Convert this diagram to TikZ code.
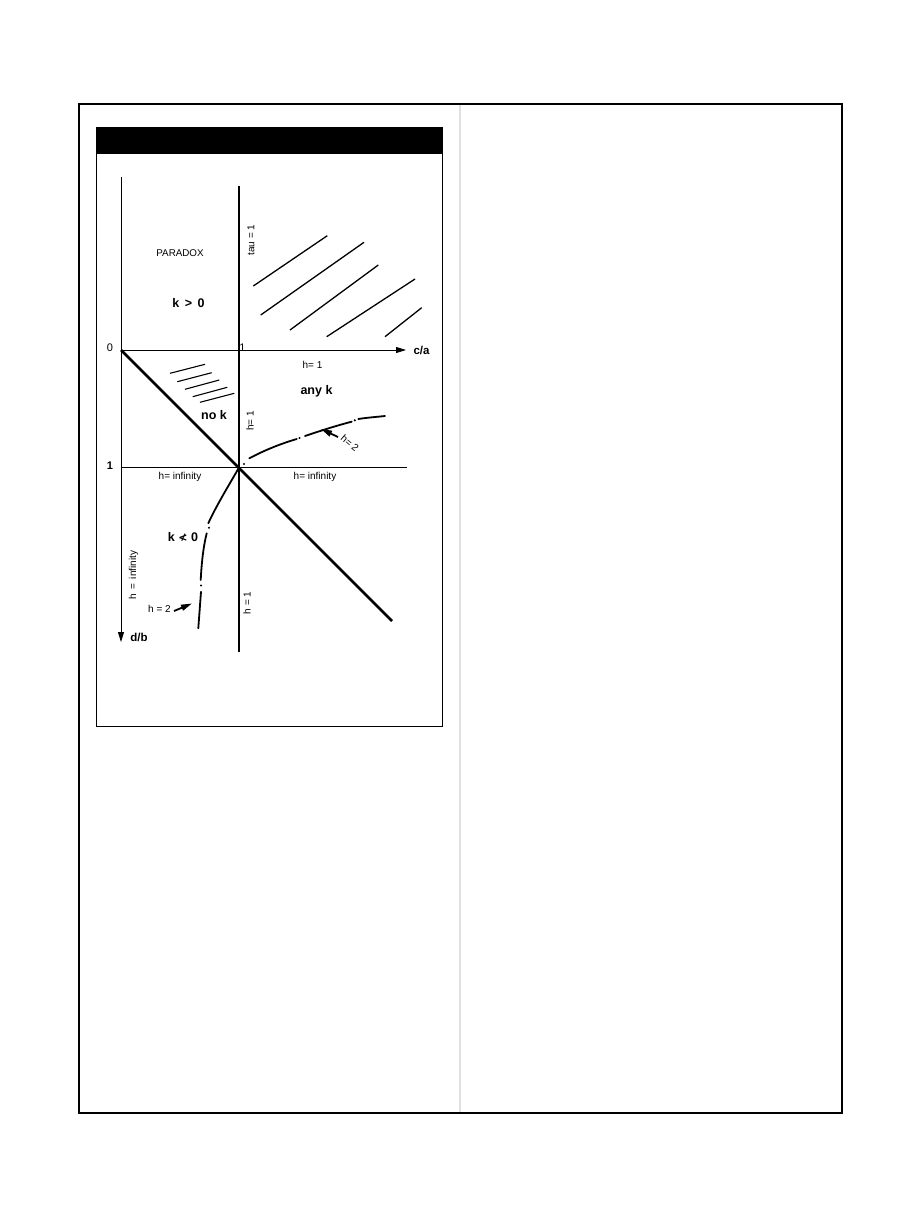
\documentclass[tikz,border=0pt]{standalone}
\usepackage{fontspec}
\setmainfont{Liberation Sans}
\setsansfont{Liberation Sans}
\usetikzlibrary{arrows.meta}
\tikzset{
  frameline/.style={line width=1.3pt, black},
  divider/.style={line width=2pt, black!12},
  boxline/.style={line width=0.9pt, black},
  axisline/.style={line width=0.8pt, black},
  midline/.style={line width=1.6pt, black},
  heavyline/.style={line width=2.8pt, black},
  hatchline/.style={line width=1.3pt, black},
  curveline/.style={line width=1.8pt, black, line cap=round},
  tip/.style={-{Triangle[length=10pt,width=6pt]}},
  pointer/.style={-{Triangle[length=11pt,width=6pt]}, line width=1.8pt},
  lbl/.style={font=\fontsize{10}{12}\selectfont, inner sep=0pt},
  blbl/.style={font=\fontsize{12.5}{14}\selectfont\bfseries, inner sep=0pt},
  dotmark/.style={circle, fill=black, inner sep=0pt, minimum size=2.4pt}
}
\begin{document}
\begin{tikzpicture}[x=1pt,y=-1pt]
\useasboundingbox (0,0) rectangle (918,1215);
% outer frame and divider
\draw[divider] (460,105) -- (460,1112);
\draw[frameline] (79,104) rectangle (842,1113);
% inner box with black header bar
\fill[black] (96,127) rectangle (442,154);
\draw[boxline] (96,127) rectangle (442,726);

% key coordinates
\coordinate (O) at (121,350);
\coordinate (ytop) at (121,177);
\coordinate (yend) at (121,642);
\coordinate (xend) at (406,350);
\coordinate (ttop) at (239,186);
\coordinate (tbot) at (239,652);
\coordinate (C) at (239,467.5);
\coordinate (hl) at (121,467.5);
\coordinate (hr) at (407,467.5);
\coordinate (dend) at (392,621);

% axes and lines
\draw[axisline] (ytop) -- (O);
\draw[axisline, tip] (O) -- (yend);
\draw[axisline, tip] (O) -- (xend);
\draw[midline] (ttop) -- (tbot);
\draw[midline] (hl) -- (hr);
\draw[heavyline] (O) -- (dend);

% hatching upper right
\coordinate (a1) at (253.3,286); \coordinate (b1) at (327.3,235.7);
\coordinate (a2) at (260.7,315); \coordinate (b2) at (364,242.3);
\coordinate (a3) at (290,330);   \coordinate (b3) at (378.3,265);
\coordinate (a4) at (326.7,336.7); \coordinate (b4) at (415,279);
\coordinate (a5) at (385,336.7); \coordinate (b5) at (421.7,307.7);
\foreach \i in {1,...,5} \draw[hatchline] (a\i) -- (b\i);

% hatching "no k"
\coordinate (c1) at (170,373.3); \coordinate (d1) at (205,364.3);
\coordinate (c2) at (177.3,381.7); \coordinate (d2) at (211.7,372.7);
\coordinate (c3) at (185,389.3); \coordinate (d3) at (219.3,380);
\coordinate (c4) at (192.7,396.7); \coordinate (d4) at (227.3,387.3);
\coordinate (c5) at (200,402.3); \coordinate (d5) at (234.3,393.3);
\foreach \i in {1,...,5} \draw[line width=1.1pt] (c\i) -- (d\i);

% h = 2 curve, upper right branch
\node[dotmark] (u0) at (244,464) {};
\coordinate (u1) at (249.3,458.3);
\coordinate (u2) at (296.7,439);
\node[dotmark] (u3) at (299.5,438) {};
\coordinate (u4) at (305,436);
\coordinate (u5) at (351.7,421.7);
\node[dotmark] (u6) at (354.8,420.3) {};
\coordinate (u7) at (358.3,419);
\coordinate (u8) at (385,416);
\draw[curveline] (u1) .. controls (265,450) and (280,444) .. (u2);
\draw[curveline] (u4) .. controls (320,431) and (335,426) .. (u5);
\draw[curveline] (u7) .. controls (368,417.5) and (376,417) .. (u8);

% h = 2 curve, lower left branch
\coordinate (l1) at (208.3,523.3);
\node[dotmark] (l2) at (209,527.7) {};
\coordinate (l3) at (206.7,533.3);
\coordinate (l4) at (200.7,580);
\node[dotmark] (l5) at (201,585.5) {};
\coordinate (l6) at (201,591.7);
\coordinate (l7) at (198.3,628.3);
\draw[curveline] (C) .. controls (232,480) and (216,506) .. (l1);
\draw[curveline] (l3) .. controls (203,548) and (201.5,565) .. (l4);
\draw[curveline] (l6) -- (l7);

% labels
\node[lbl, font=\fontsize{9.8}{12}\selectfont] (paradox) at (180,253.5) {PARADOX};
\node[blbl] (kpos) at (188.5,303.5) {k \,>\, 0};
\node[lbl, font=\fontsize{11}{12}\selectfont] (zero) at (110,347.5) {0};
\node[lbl, font=\fontsize{11}{12}\selectfont] (one) at (242.5,347.5) {1};
\node[blbl, font=\fontsize{11.5}{13}\selectfont\bfseries] (ca) at (421.5,350) {c/a};
\node[lbl] (h1a) at (312.5,365) {h= 1};
\node[lbl, rotate=90] (tau) at (251,240) {tau = 1};
\node[blbl] (anyk) at (316.5,391.5) {any k};
\node[blbl] (nok) at (214,415) {no k};
\node[lbl, rotate=90] (h1b) at (250,421) {h= 1};
\node[lbl, font=\fontsize{11}{12}\selectfont\bfseries] (oneb) at (110,466) {1};
\node[lbl] (hinfl) at (180,477) {h= infinity};
\node[lbl] (hinfr) at (315,477) {h= infinity};
\node[lbl, rotate=-40] (h2a) at (350,443) {h= 2};
\node[blbl] (kneg) at (183,537) {k {\fontspec{DejaVu Sans}\fontsize{11}{12}\selectfont ≮} 0};
\node[lbl, rotate=90] (hinfv) at (133.5,575) {h \,=\, infinity};
\node[lbl, rotate=90] (h1c) at (247,603) {h = 1};
\node[lbl] (h2b) at (159.5,608.5) {h = 2};
\node[blbl, font=\fontsize{11.5}{13}\selectfont\bfseries] (db) at (139,637) {d/b};

% pointer arrows for h = 2
\coordinate (p1s) at (338,437);
\coordinate (p1e) at (321,429);
\draw[pointer] (p1s) -- (p1e);
\coordinate (p2s) at (174,611);
\coordinate (p2e) at (192,603.5);
\draw[pointer] (p2s) -- (p2e);
\end{tikzpicture}
\end{document}
